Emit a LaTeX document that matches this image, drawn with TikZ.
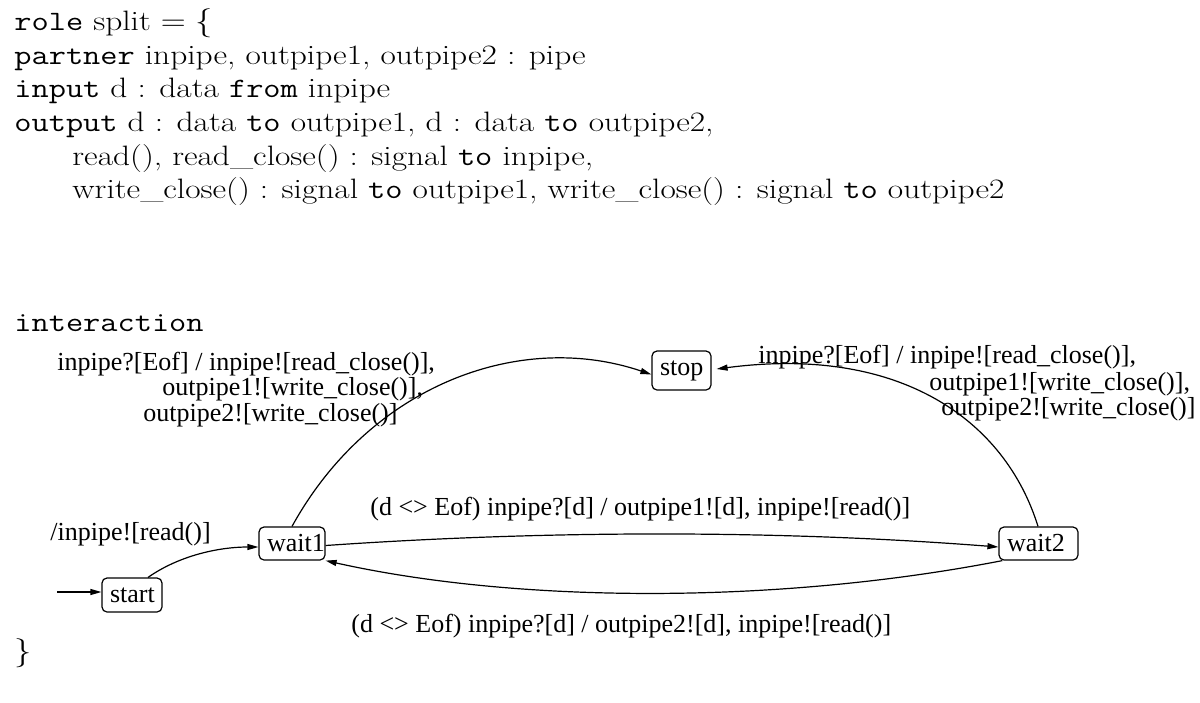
\documentclass[tikz,border=0pt]{standalone}
\usepackage{fontspec}
\newfontfamily\timesfont{Liberation Serif}
\usetikzlibrary{arrows.meta}
\newcommand\kw[1]{\texttt{#1}}
\newcommand\vsq[1]{\scalebox{1}[0.84]{#1}}
\begin{document}
\begin{tikzpicture}[x=0.5pt,y=-0.5pt,
  code/.style={anchor=base west, inner sep=0pt, font=\fontsize{16.7}{20}\selectfont},
  lbl/.style={anchor=base west, inner sep=0pt, font=\timesfont\fontsize{13}{15}\selectfont},
  state/.style={draw, rounded corners=2.5pt, line width=0.6pt, inner xsep=4pt, inner ysep=0pt,
    align=left, font=\timesfont\fontsize{13}{15}\selectfont},
  edge/.style={line width=0.6pt, -{Triangle[length=5.5pt,width=3pt]}}]
\useasboundingbox (0,0) rectangle (1200,702);
% code text
\node[code] (c1) at (14,30) {\vsq{\kw{role} split $=\{$}};
\node[code] (c2) at (14,64) {\vsq{\kw{partner} inpipe, outpipe1, outpipe2 : pipe}};
\node[code] (c3) at (14,97) {\vsq{\kw{input} d : data \kw{from} inpipe}};
\node[code] (c4) at (14,131) {\vsq{\kw{output} d : data \kw{to} outpipe1, d : data \kw{to} outpipe2,}};
\node[code] (c5) at (72,165) {\vsq{read(), read\_close() : signal \kw{to} inpipe,}};
\node[code] (c6) at (72,198) {\vsq{write\_close() : signal \kw{to} outpipe1, write\_close() : signal \kw{to} outpipe2}};
\node[code] (c7) at (14,331) {\vsq{\kw{interaction}}};
\node[code] (c8) at (14,660) {\vsq{$\}$}};
% states
\node[state, text width=22pt, minimum height=17pt] (start) at (132,595) {start};
\node[state, text width=25pt, minimum height=16.5pt] (wait1) at (292,543.5) {wait1};
\node[state, text width=31.5pt, minimum height=16.5pt] (wait2) at (1038.5,543.5) {wait2};
\node[state, text width=21.5pt, minimum height=19.5pt] (stop) at (681.5,370.5) {stop};
% edges
\coordinate (init) at (57,592);
\draw[edge] (init) -- ([yshift=1.5pt]start.west);
\draw[edge] ([xshift=8pt]start.north) .. controls (180,555) and (220,547) .. ([yshift=-1.75pt]wait1.west);
\draw[edge] ([yshift=-1pt]wait1.east) .. controls (550,530) and (780,530) .. ([yshift=-1.75pt]wait2.west);
\draw[edge] ([xshift=2pt]wait2.south west) .. controls (780,604) and (520,604) .. (wait1.south east);
\draw[edge] (wait1.north) .. controls (370,385) and (520,330) .. ([yshift=-2pt]stop.west);
\draw[edge] ([xshift=-0.25pt]wait2.north) .. controls (1005,420) and (900,345) .. ([xshift=2.5pt,yshift=0.75pt]stop.east);
% labels
\node[lbl] (l1a) at (57,370) {inpipe?[Eof] / inpipe![read\_close()],};
\node[lbl] (l1b) at (162,395) {outpipe1![write\_close()],};
\node[lbl] (l1c) at (143,421) {outpipe2![write\_close()]};
\node[lbl] (r1a) at (758,363) {inpipe?[Eof] / inpipe![read\_close()],};
\node[lbl] (r1b) at (929,390) {outpipe1![write\_close()],};
\node[lbl] (r1c) at (941,415) {outpipe2![write\_close()]};
\node[lbl] (linit) at (50,540) {/inpipe![read()]};
\node[lbl] (ltop) at (370,515) {(d \textless\textgreater\ Eof) inpipe?[d] / outpipe1![d], inpipe![read()]};
\node[lbl] (lbot) at (351,632) {(d \textless\textgreater\ Eof) inpipe?[d] / outpipe2![d], inpipe![read()]};
\end{tikzpicture}
\end{document}
